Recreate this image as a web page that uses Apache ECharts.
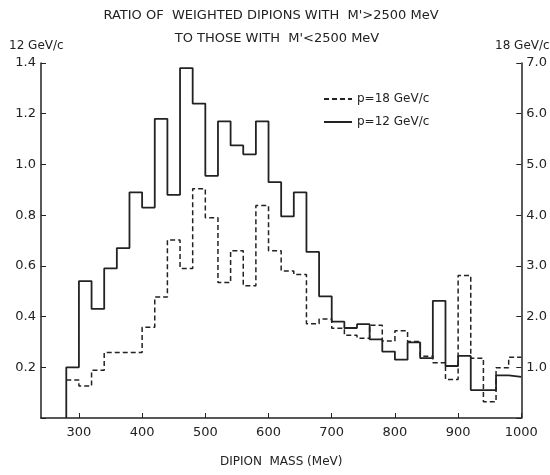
<!DOCTYPE html>
<html><head><meta charset="utf-8">
<script src="https://cdn.jsdelivr.net/npm/echarts@6/dist/echarts.min.js"></script>
<style>
  html, body { margin: 0; padding: 0; background: #fff; }
  #main { width: 550px; height: 475px; }
</style></head><body><div id="main"></div><script type="text/javascript">
        // bin edges of the dipion mass histogram (MeV)
        var massEdges = [280, 300, 320, 340, 360, 380, 400, 420, 440, 460, 480, 500, 520, 540, 560, 580, 600, 620, 640,
                         660, 680, 700, 720, 740, 760, 780, 800, 820, 840, 860, 880, 900, 920, 940, 960, 980, 1000];
        // p = 12 GeV/c, left axis
        var ratio12 = [0.20, 0.54, 0.43, 0.59, 0.67, 0.89, 0.83, 1.18, 0.88, 1.38, 1.24, 0.955, 1.17, 1.075, 1.04, 1.17, 0.93, 0.795,
                       0.89, 0.655, 0.48, 0.38, 0.355, 0.37, 0.31, 0.262, 0.23, 0.298, 0.236, 0.462, 0.205, 0.245, 0.11, 0.11, 0.168, 0.162];
        // p = 18 GeV/c, right axis
        var ratio18 = [0.75, 0.63, 0.94, 1.29, 1.29, 1.29, 1.79, 2.385, 3.51, 2.95, 4.52, 3.95, 2.67, 3.30, 2.61, 4.19, 3.30, 2.90,
                       2.83, 1.86, 1.95, 1.77, 1.63, 1.575, 1.83, 1.52, 1.72, 1.51, 1.22, 1.09, 0.76, 2.81, 1.18, 0.32, 0.99, 1.20];
        var massTicks = [300, 400, 500, 600, 700, 800, 900, 1000];

        var font = 'DejaVu Sans';
        var ink = '#222';

        // histogram outline as step points: each bin start keeps its value, last edge closes it
        function steps(vals, fromZero) {
            var res = [];
            if (fromZero) res.push([massEdges[0], 0]);
            for (var i = 0; i < vals.length; i++) {
                res.push([massEdges[i], vals[i]]);
            }
            res.push([massEdges[vals.length], vals[vals.length - 1]]);
            return res;
        }

        var myChart = echarts.init(document.getElementById('main'));
        var option = {
            animation: false,
            textStyle: { fontFamily: font, color: ink },
            title: [
                { text: "RATIO OF  WEIGHTED DIPIONS WITH  M'>2500 MeV", left: 266, top: 4, textAlign: 'center',
                  textStyle: { fontFamily: font, fontSize: 13, fontWeight: 'normal', color: ink } },
                { text: "TO THOSE WITH  M'<2500 MeV", left: 272, top: 27, textAlign: 'center',
                  textStyle: { fontFamily: font, fontSize: 13, fontWeight: 'normal', color: ink } },
                { text: '12 GeV/c', left: 4, top: 35,
                  textStyle: { fontFamily: font, fontSize: 12, fontWeight: 'normal', color: ink } },
                { text: '18 GeV/c', left: 490, top: 35,
                  textStyle: { fontFamily: font, fontSize: 12, fontWeight: 'normal', color: ink } }
            ],
            legend: {
                orient: 'vertical',
                left: 318,
                top: 88,
                itemWidth: 28,
                itemHeight: 14,
                itemGap: 11,
                data: ['p=18 GeV/c', 'p=12 GeV/c'],
                itemStyle: { color: 'transparent', borderWidth: 0 },
                textStyle: { fontFamily: font, fontSize: 12, color: ink }
            },
            grid: { left: 41, right: 28, top: 63, bottom: 57 },
            xAxis: {
                type: 'value',
                min: 240,
                max: 1000,
                name: 'DIPION  MASS (MeV)',
                nameLocation: 'middle',
                nameGap: 38,
                nameTextStyle: { fontFamily: font, fontSize: 12, color: ink },
                splitLine: { show: false },
                axisLine: { lineStyle: { color: ink, width: 1.5 } },
                axisTick: { inside: true, length: 5, customValues: massTicks, lineStyle: { color: ink } },
                axisLabel: {
                    customValues: massTicks, margin: 8, fontSize: 13, color: ink, fontFamily: font,
                    formatter: function (v) { return String(v); }
                }
            },
            yAxis: [
                {
                    type: 'value',
                    min: 0,
                    max: 1.4,
                    interval: 0.2,
                    splitLine: { show: false },
                    axisLine: { show: true, lineStyle: { color: ink, width: 1.5 } },
                    axisTick: { show: true, inside: true, length: 5, lineStyle: { color: ink } },
                    axisLabel: {
                        margin: 5, fontSize: 13, color: ink, fontFamily: font,
                        formatter: function (v) { return v === 0 ? '' : v.toFixed(1); }
                    }
                },
                {
                    type: 'value',
                    position: 'right',
                    min: 0,
                    max: 7,
                    interval: 1,
                    splitLine: { show: false },
                    axisLine: { show: true, lineStyle: { color: ink, width: 1.5 } },
                    axisTick: { show: true, inside: true, length: 5, lineStyle: { color: ink } },
                    axisLabel: {
                        margin: 5, fontSize: 13, color: ink, fontFamily: font,
                        formatter: function (v) { return v === 0 ? '' : v.toFixed(1); }
                    }
                }
            ],
            series: [
                {
                    name: 'p=18 GeV/c',
                    type: 'line',
                    yAxisIndex: 1,
                    step: 'end',
                    symbol: 'none',
                    lineStyle: { color: ink, width: 1.5, type: [5, 3] },
                    itemStyle: { color: ink },
                    data: steps(ratio18, false)
                },
                {
                    name: 'p=12 GeV/c',
                    type: 'line',
                    yAxisIndex: 0,
                    step: 'end',
                    symbol: 'none',
                    lineStyle: { color: ink, width: 1.8 },
                    itemStyle: { color: ink },
                    data: steps(ratio12, true)
                }
            ]
        };
        myChart.setOption(option);
    </script></body></html>
